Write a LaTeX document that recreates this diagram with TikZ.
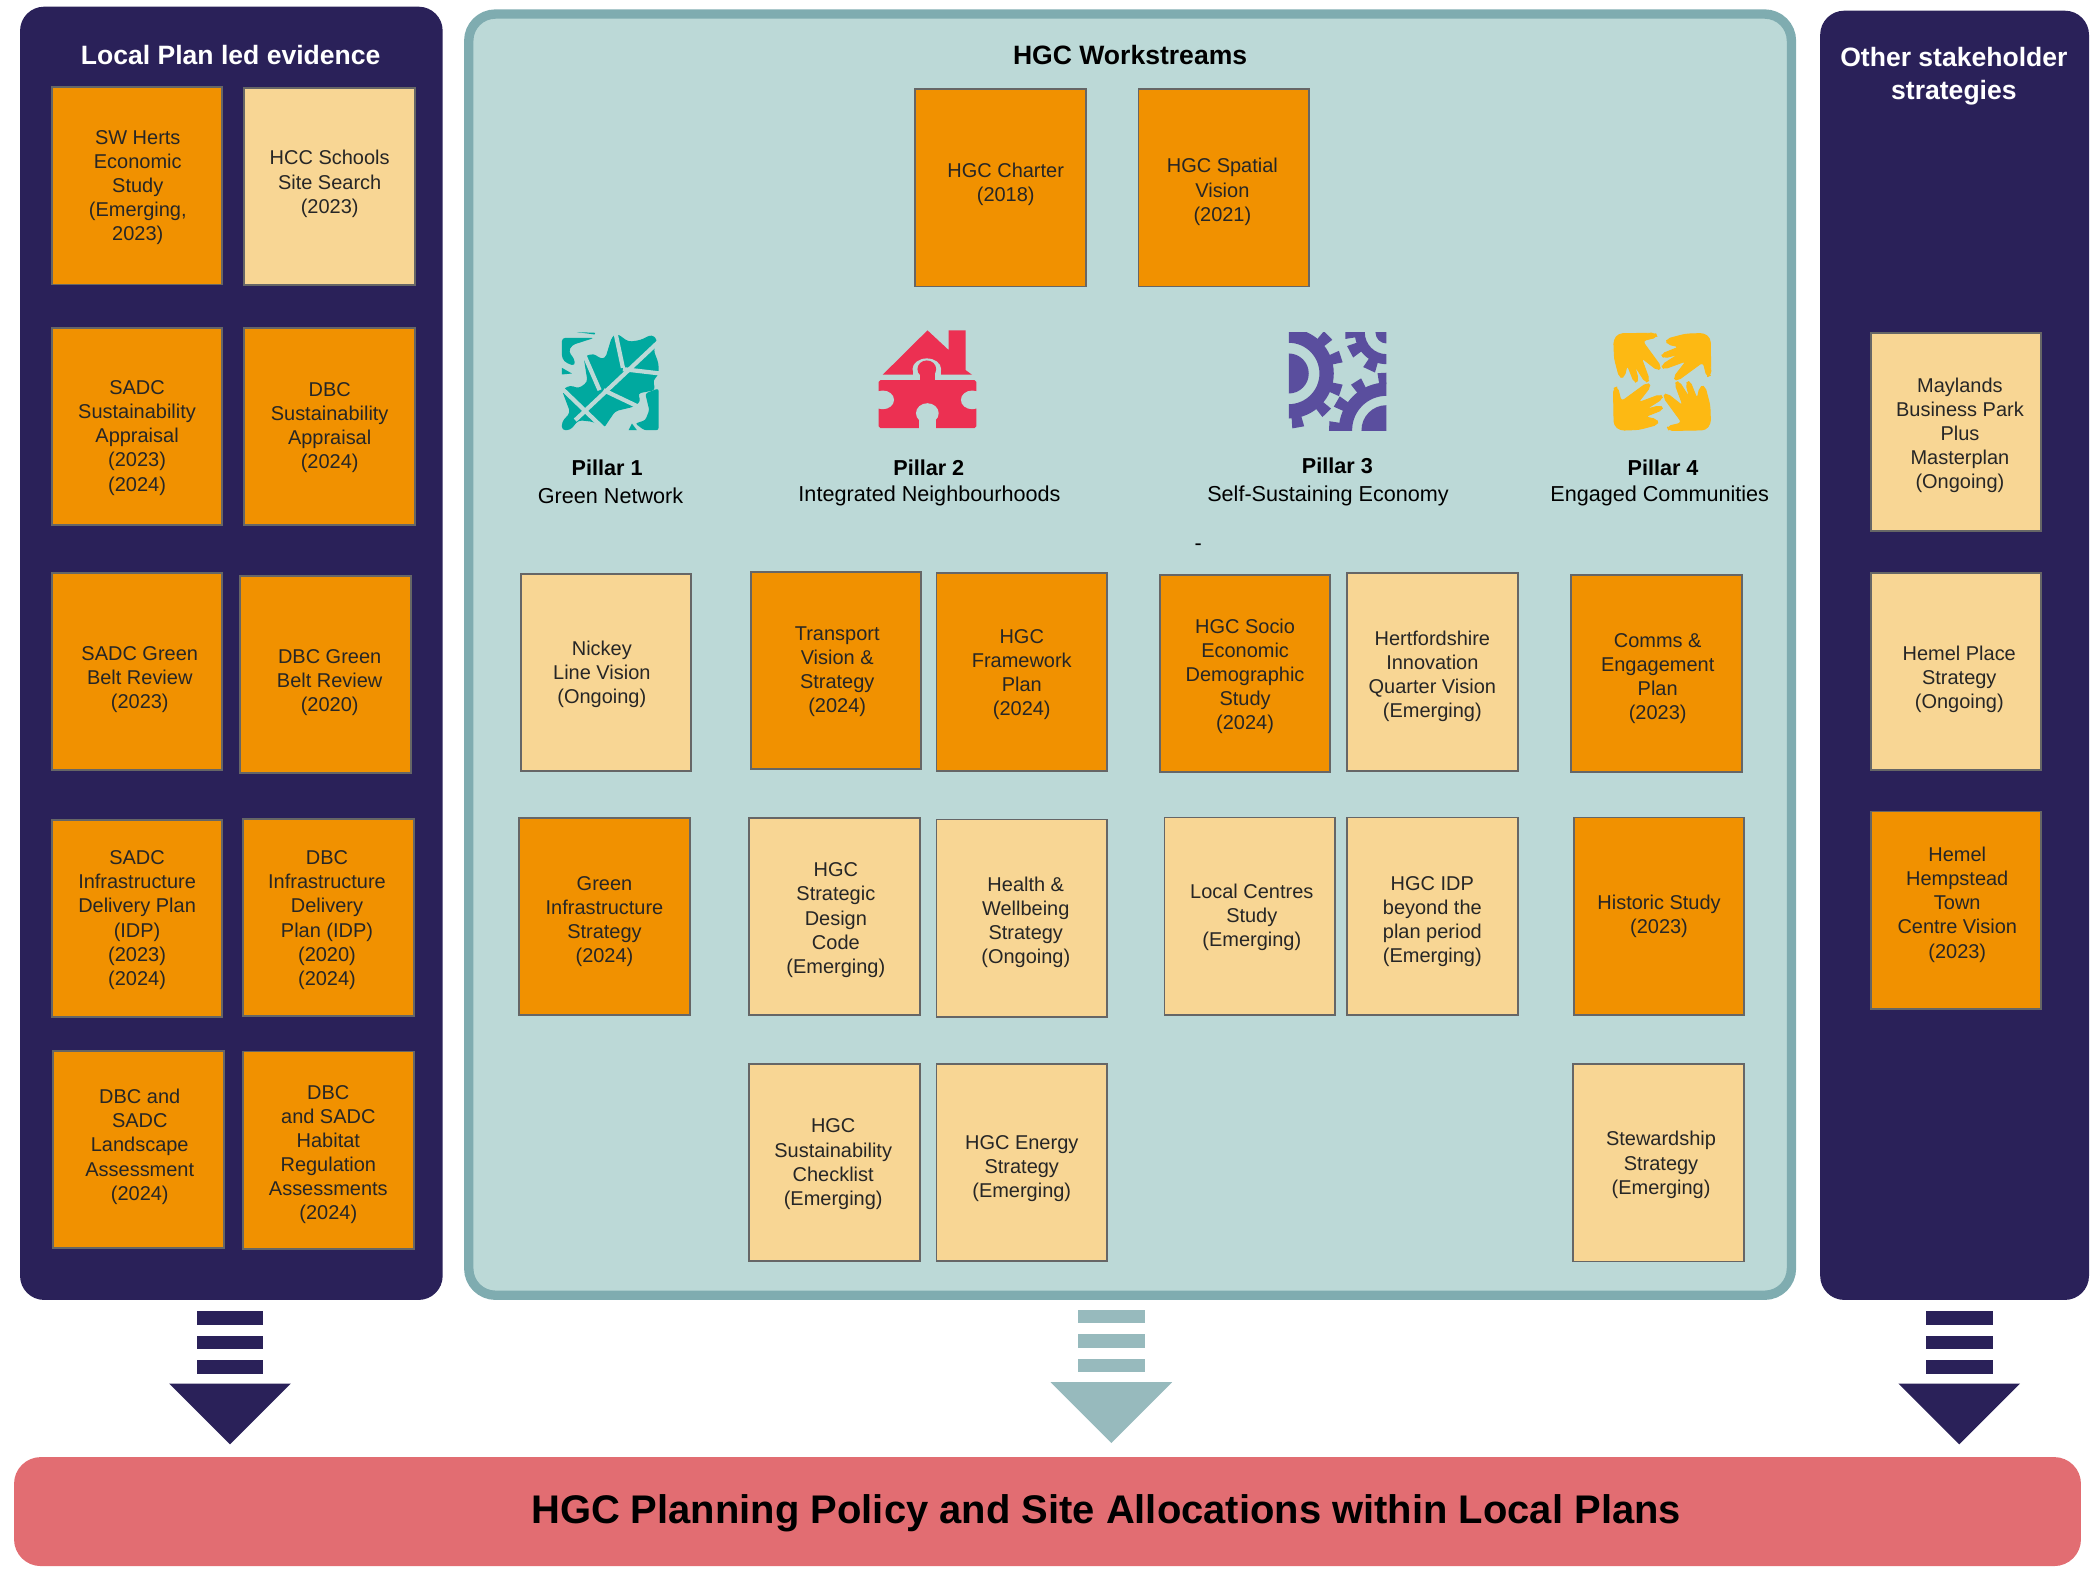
\documentclass[tikz,border=0pt]{standalone}
\usepackage{fontspec}
\setmainfont{Liberation Sans}
\definecolor{navypanel}{HTML}{2A2159}
\definecolor{tealpanel}{HTML}{BCD9D7}
\definecolor{tealedge}{HTML}{7FACB0}
\definecolor{tealarrow}{HTML}{97BABD}
\definecolor{orangefill}{HTML}{F19100}
\definecolor{creamfill}{HTML}{F8D694}
\definecolor{policyred}{HTML}{E26D72}
\definecolor{leafteal}{HTML}{00A99F}
\definecolor{housered}{HTML}{EC3052}
\definecolor{cogpurple}{HTML}{5A4E9E}
\definecolor{handyellow}{HTML}{FDB913}
\tikzset{
  workbox/.style={draw=black!60,line width=0.8pt,minimum width=2.55cm,minimum height=2.95cm,inner sep=0pt},
  orangebox/.style={workbox,fill=orangefill},
  creambox/.style={workbox,fill=creamfill},
  boxtext/.style={inner sep=0pt,align=center,text=black!85,font=\fontsize{8.5}{10.25}\selectfont},
  paneltitle/.style={align=center,inner sep=0pt,font=\fontsize{11.3}{14.2}\selectfont\bfseries},
  pillarhead/.style={inner sep=0pt,font=\fontsize{9.2}{11}\selectfont\bfseries},
  pillarname/.style={inner sep=0pt,font=\fontsize{9.2}{11}\selectfont},
  iconzoom/.style={x=0.004986cm,y=-0.004986cm}
}
% box and its text: style, name, centre, text offset, text
\newcommand{\placebox}[5]{
  \node[#1] (#2) at (#3) {};
  \node[boxtext] (#2text) at ([shift={(#4)}]#2.center) {#5};
}
% one wheel of the pillar 3 icon: centre, disc, ring in, ring out, tooth angles
\newcommand{\cogwheel}[6]{
  \begin{scope}[shift={(#1,#2)}]
    \fill (0,0) circle (#3);
    \fill[even odd rule] (0,0) circle (#5) (0,0) circle (#4);
    \foreach\Tooth in {#6}{
      \pgfmathsetmacro\Half{850/#5}
      \fill (\Tooth-\Half:#5-4) -- (\Tooth-\Half:#5+30) -- (\Tooth+\Half:#5+30) -- (\Tooth+\Half:#5-4) -- cycle;
    }
  \end{scope}
}
\begin{document}
\begin{tikzpicture}[x=0.02cm,y=-0.02cm]
  \useasboundingbox (0,0) rectangle (1568,1176);

  % panels
  \fill[navypanel,rounded corners=0.36cm] (15,5) rectangle (331,972);
  \fill[navypanel,rounded corners=0.36cm] (1361,8) rectangle (1562,972);
  \draw[tealedge,fill=tealpanel,line width=0.14cm,rounded corners=0.4cm] (350.5,10.5) rectangle (1339.5,968.5);
  \fill[policyred,rounded corners=0.4cm] (10.5,1089.5) rectangle (1556,1171);

  \node[paneltitle,text=white] (localtitle) at (172.5,41) {Local Plan led evidence};
  \node[paneltitle] (hgctitle) at (845,41.5) {HGC Workstreams};
  \node[paneltitle,text=white] (othertitle) at (1461,57) {Other stakeholder\\strategies};
  \node[inner sep=0pt,font=\fontsize{17}{20}\selectfont\bfseries] (policy) at (827,1131.5)
    {HGC Planning Policy and Site Allocations within Local Plans};

  % boxes
  \placebox{orangebox}{swherts}{102.5,139}{0.5,1.5}{SW Herts\\Economic\\Study\\(Emerging,\\2023)}
  \placebox{creambox}{schools}{246.5,139.5}{0,-2}{HCC Schools\\Site Search\\(2023)}
  \placebox{orangebox}{sadcsa}{102.5,319}{0,8.5}{SADC\\Sustainability\\Appraisal\\(2023)\\(2024)}
  \placebox{orangebox}{dbcsa}{246.5,319}{0,0.5}{DBC\\Sustainability\\Appraisal\\(2024)}
  \placebox{orangebox}{sadcgb}{102.5,502}{2,6}{SADC Green\\Belt Review\\(2023)}
  \placebox{orangebox}{dbcgb}{243.5,504.5}{3,6}{DBC Green\\Belt Review\\(2020)}
  \placebox{orangebox}{sadcidp}{102.5,687}{0,1}{SADC\\Infrastructure\\Delivery Plan\\(IDP)\\(2023)\\(2024)}
  \placebox{orangebox}{dbcidp}{245.5,686}{-1,2}{DBC\\Infrastructure\\Delivery\\Plan (IDP)\\(2020)\\(2024)}
  \placebox{orangebox}{landscape}{103.5,859.5}{1,-2}{DBC and\\SADC\\Landscape\\Assessment\\(2024)}
  \placebox{orangebox}{habitat}{245.5,860}{0,3.5}{DBC\\and SADC\\Habitat\\Regulation\\Assessments\\(2024)}

  \placebox{orangebox}{charter}{748,140.5}{4,-3}{HGC Charter\\(2018)}
  \placebox{orangebox}{spatial}{915,140.5}{-1,3}{HGC Spatial\\Vision\\(2021)}

  \placebox{creambox}{nickey}{453,503}{-3,1}{Nickey\\Line Vision\\(Ongoing)}
  \placebox{orangebox}{transport}{625,501.5}{1,0.5}{Transport\\Vision \&\\Strategy\\(2024)}
  \placebox{orangebox}{framework}{764,502.5}{0,2}{HGC\\Framework\\Plan\\(2024)}
  \placebox{orangebox}{socio}{931,503.5}{0,2}{HGC Socio\\Economic\\Demographic\\Study\\(2024)}
  \placebox{creambox}{innovation}{1071,502.5}{0,3}{Hertfordshire\\Innovation\\Quarter Vision\\(Emerging)}
  \placebox{orangebox}{comms}{1238.5,503.5}{1,4}{Comms \&\\Engagement\\Plan\\(2023)}

  \placebox{orangebox}{greeninf}{452,685.5}{0,3.5}{Green\\Infrastructure\\Strategy\\(2024)}
  \placebox{creambox}{design}{624,685.5}{1,2.5}{HGC\\Strategic\\Design\\Code\\(Emerging)}
  \placebox{creambox}{health}{764,686.5}{3,3}{Health \&\\Wellbeing\\Strategy\\(Ongoing)}
  \placebox{creambox}{centres}{934.5,685}{1.5,1}{Local Centres\\Study\\(Emerging)}
  \placebox{creambox}{hgcidp}{1071,685}{0,4}{HGC IDP\\beyond the\\plan period\\(Emerging)}
  \placebox{orangebox}{historic}{1240.5,685}{0,0}{Historic Study\\(2023)}

  \placebox{creambox}{checklist}{624,869}{-1,1.5}{HGC\\Sustainability\\Checklist\\(Emerging)}
  \placebox{creambox}{energy}{764,869}{0,5}{HGC Energy\\Strategy\\(Emerging)}
  \placebox{creambox}{steward}{1240,869.5}{2,1.5}{Stewardship\\Strategy\\(Emerging)}

  \placebox{creambox}{maylands}{1462.5,323}{3,2.5}{Maylands\\Business Park\\Plus\\Masterplan\\(Ongoing)}
  \placebox{creambox}{hemelplace}{1462.5,502}{2.5,6}{Hemel Place\\Strategy\\(Ongoing)}
  \placebox{orangebox}{hemeltown}{1462.5,680.5}{1,-4}{Hemel\\Hempstead\\Town\\Centre Vision\\(2023)}

  % pillar captions
  \node[pillarhead] (headone) at (454,350) {Pillar 1};
  \node[pillarname] (nameone) at (456.5,371) {Green Network};
  \node[pillarhead] (headtwo) at (694.5,350) {Pillar 2};
  \node[pillarname] (nametwo) at (695,371) {Integrated Neighbourhoods};
  \node[pillarhead] (headthree) at (1000,348.5) {Pillar 3};
  \node[pillarname] (namethree) at (993,371) {Self-Sustaining Economy};
  \node[pillarhead] (headfour) at (1243.5,350) {Pillar 4};
  \node[pillarname] (namefour) at (1241,371) {Engaged Communities};
  \node[pillarname] (dash) at (896,409) {-};

  % leaf icon
  \begin{scope}[shift={(411.4,243.1)},iconzoom]
    \fill[leafteal,rounded corners=1.5pt] (100,95) -- (130,85) -- (150,100) -- (165,100) -- (185,35)
      -- (200,25) -- (235,50) -- (270,45) -- (305,28) -- (322,45) -- (310,75) -- (325,115) -- (325,150)
      -- (308,165) -- (315,195) -- (262,205) -- (272,228) -- (250,245) -- (195,258) -- (160,310)
      -- (130,290) -- (85,285) -- (60,315) -- (35,315) -- (35,290) -- (60,262) -- (35,195) -- (60,180)
      -- (85,190) -- (112,170) -- cycle;
    \fill[leafteal,rounded corners=1.5pt] (35,38) -- (133,38) -- (65,60) -- (55,80) -- (72,100) -- (75,122)
      -- (50,115) -- (35,100) -- cycle;
    \fill[leafteal] (35,128) -- (65,145) -- (35,148) -- cycle;
    \fill[leafteal] (80,21) -- (135,23) -- (133,28) -- cycle;
    \fill[leafteal,rounded corners=1pt] (310,195) -- (325,190) -- (325,315) -- (282,315) -- (255,295)
      -- (285,285) -- (297,255) -- (285,205) -- cycle;
    \fill[leafteal] (235,315) -- (245,295) -- (260,315) -- cycle;
    \draw[tealpanel,line width=1.8pt] (75,285) -- (325,50);
    \draw[tealpanel,line width=1.8pt] (100,85) -- (148,195);
    \draw[tealpanel,line width=1.8pt] (195,20) -- (218,128);
    \draw[tealpanel,line width=1.8pt] (218,132) -- (330,145);
    \draw[tealpanel,line width=1.8pt] (160,195) -- (265,245);
    \draw[tealpanel,line width=1.8pt] (35,190) -- (165,315);
  \end{scope}

  % house icon
  \begin{scope}[shift={(657,247)}]
    \fill[housered] (36.5,0) -- (52.4,14.8) -- (52.4,0) -- (65,0) -- (65,29.7) -- (69.8,33.2) -- (3,33.2) -- cycle;
    \fill[tealpanel] (36,29) ellipse (10.7 and 8);
    \fill[tealpanel] (25.3,29) rectangle (46.7,37.2);
    \fill[housered,rounded corners=0.8pt] (0,37.2) rectangle (73,73.2);
    \fill[housered] (36,29) ellipse (7 and 6.5);
    \fill[housered] (30.7,30) rectangle (41.8,38);
    \fill[tealpanel] (3,52) ellipse (8.5 and 7);
    \fill[tealpanel] (70,52) ellipse (8.5 and 7);
    \fill[tealpanel] (36.4,62) ellipse (8.5 and 7.5);
    \fill[tealpanel] (30,62) rectangle (42.5,74);
  \end{scope}

  % cog icon
  \begin{scope}[shift={(957.4,243.1)},iconzoom,cogpurple]
    \clip (25,22) rectangle (318,315);
    \cogwheel{25}{145}{60}{92}{135}{-78,-44,-18,18,46,80}
    \cogwheel{318}{315}{75}{103}{143}{-177,-150,-122,-93}
    \cogwheel{318}{22}{33}{65}{95}{180,152,115}
  \end{scope}

  % hands icon
  \begin{scope}[shift={(1196.7,243.1)},iconzoom]
    \foreach\Turn in {0,90,180,270}{
      \begin{scope}[rotate around={\Turn:(185,170)}]
        \filldraw[handyellow,line width=0.4pt,line join=round,rounded corners=1.6pt] (40,45) -- (55,26)
          -- (165,24) -- (170,36) -- (125,47) -- (182,125) -- (172,136) -- (122,97) -- (147,165) -- (135,172)
          -- (102,120) -- (114,165) -- (102,173) -- (80,118) -- (72,155) -- (57,157) -- (42,100) -- cycle;
      \end{scope}
    }
  \end{scope}

  % arrows into the policy band
  \foreach\Ax/\Tint/\Top in {172/navypanel/980.5, 831/tealarrow/979.5, 1465/navypanel/980.5}{
    \foreach\Dy in {0,18.3,36.6}{
      \fill[\Tint] (\Ax-25,\Top+\Dy) rectangle (\Ax+25,\Top+\Dy+10);
    }
    \fill[\Tint] (\Ax-45.5,\Top+54) -- (\Ax+45.5,\Top+54) -- (\Ax,\Top+99.5) -- cycle;
  }
\end{tikzpicture}
\end{document}
